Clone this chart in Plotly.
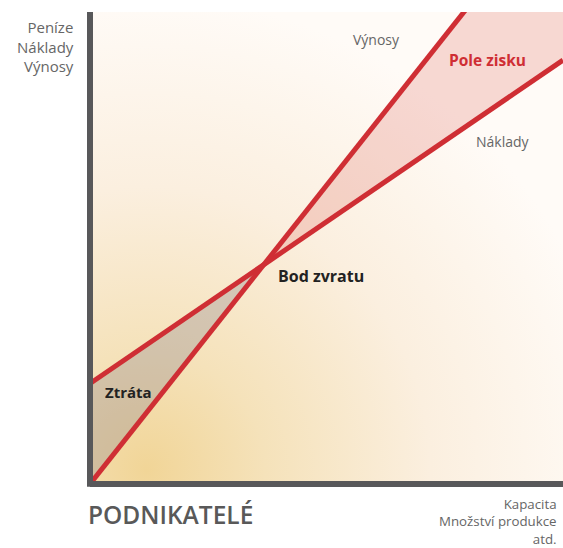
import base64
import numpy as np
import plotly.graph_objects as go

# ---- data ----
quantity = [0, 100]          # capacity / production volume (relative units)
revenue = [0, 126.5]         # Výnosy
costs = [21.3, 89.8]         # Náklady
y_max = 100
x_max = 100
y_axis_labels = ["Peníze", "Náklady", "Výnosy"]
x_axis_labels = ["Kapacita", "Množství produkce", "atd."]

# ---- derived geometry from data ----
q = np.array(quantity, dtype=float)
r = np.array(revenue, dtype=float)
c = np.array(costs, dtype=float)
r_slope = (r[1] - r[0]) / (q[1] - q[0])
c_slope = (c[1] - c[0]) / (q[1] - q[0])
be_x = (c[0] - r[0]) / (r_slope - c_slope)
be_y = r[0] + r_slope * be_x
r_top_x = (y_max - r[0]) / r_slope

loss_x = [q[0], be_x, q[0]]
loss_y = [r[0], be_y, c[0]]
profit_x = [be_x, r_top_x, x_max, x_max]
profit_y = [be_y, y_max, y_max, c[0] + c_slope * x_max]

RED = "#cf2e34"
GRAY = "#666666"
FONT = "Open Sans"
W, H = 563, 548
ML, MR, MT, MB = 90, 0, 12, 64
PW, PH = W - ML - MR, H - MT - MB

def px2paper(px, py):
    return (px - ML) / PW, (H - MB - py) / PH

svg = """<svg xmlns='http://www.w3.org/2000/svg' width='473' height='472' preserveAspectRatio='none'>
<defs><radialGradient id='g' cx='0.12' cy='0.97' r='1.0'>
<stop offset='0' stop-color='#f1d597'/>
<stop offset='0.25' stop-color='#f5e2ba'/>
<stop offset='0.6' stop-color='#fbefdf'/>
<stop offset='1' stop-color='#fffbf7'/>
</radialGradient></defs>
<rect width='473' height='472' fill='url(#g)'/></svg>"""
bg_uri = "data:image/svg+xml;base64," + base64.b64encode(svg.encode()).decode()

fig = go.Figure()
fig.add_trace(go.Scatter(x=loss_x, y=loss_y, fill="toself", mode="none",
                         fillcolor="rgba(150,138,145,0.36)", hoverinfo="skip"))
fig.add_trace(go.Scatter(x=profit_x, y=profit_y, fill="toself", mode="none",
                         fillcolor="rgba(220,90,80,0.22)", hoverinfo="skip"))
fig.add_trace(go.Scatter(x=quantity, y=costs, mode="lines", name="Náklady",
                         line=dict(color=RED, width=5)))
fig.add_trace(go.Scatter(x=quantity, y=revenue, mode="lines", name="Výnosy",
                         line=dict(color=RED, width=5)))

fig.add_layout_image(dict(source=bg_uri, xref="paper", yref="paper", x=0, y=1,
                          sizex=1, sizey=1, sizing="stretch", layer="below"))

# axis lines
fig.add_shape(type="line", xref="paper", yref="paper", x0=0, x1=0, y0=-0.006, y1=1,
              line=dict(color="#58585a", width=6))
fig.add_shape(type="line", xref="paper", yref="paper", x0=0, x1=1, y0=0, y1=0,
              line=dict(color="#58585a", width=6))

def ann(text, x, y, size=14, color=GRAY, weight=None, xanchor="center",
        yanchor="middle", align="center", xref="x", yref="y"):
    f = dict(family=FONT, size=size, color=color)
    if weight:
        f["weight"] = weight
    fig.add_annotation(text=text, x=x, y=y, xref=xref, yref=yref, showarrow=False,
                       font=f, xanchor=xanchor, yanchor=yanchor, align=align)

ann("Výnosy", 60.5, 94.1)
ann("Pole zisku", 84.1, 89.8, size=15.5, color=RED, weight=700)
ann("Náklady", 87.3, 72.5)
ann("Bod zvratu", 39.3, 44.1, size=16, color="#222222", weight=700, xanchor="left")
ann("Ztráta", 2.7, 19.5, size=15, color="#222222", weight=700, xanchor="left")

px, py = px2paper(76, 15)
ann("<br>".join(y_axis_labels), px, py, size=15, xanchor="right", yanchor="top",
    align="right", xref="paper", yref="paper")

px, py = px2paper(559, 493)
ann("<br>".join(x_axis_labels), px, py, size=13.3, xanchor="right", yanchor="top",
    align="right", xref="paper", yref="paper")

px, py = px2paper(86, 514)
ann("PODNIKATELÉ", px, py, size=24.5, color="#595959", weight=600,
    xanchor="left", xref="paper", yref="paper")

fig.update_xaxes(range=[0, x_max], showgrid=False, zeroline=False, showline=False,
                 showticklabels=False, ticks="")
fig.update_yaxes(range=[0, y_max], showgrid=False, zeroline=False, showline=False,
                 showticklabels=False, ticks="")
fig.update_layout(width=W, height=H, showlegend=False,
                  margin=dict(l=ML, r=MR, t=MT, b=MB),
                  paper_bgcolor="white", plot_bgcolor="rgba(0,0,0,0)",
                  font=dict(family=FONT))

fig.write_html("out.html", config={"displayModeBar": False},
               post_script="document.body.style.margin='0';document.body.style.overflow='hidden';")
